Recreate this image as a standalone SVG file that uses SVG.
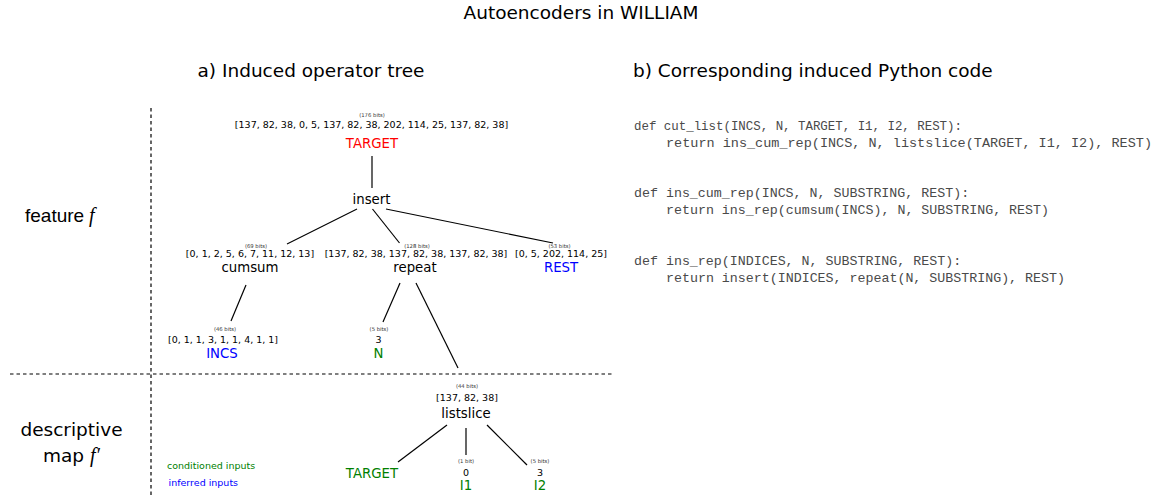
<svg xmlns="http://www.w3.org/2000/svg" width="1157" height="498" viewBox="0 0 1157 498">
<style>
text{font-family:"DejaVu Sans",sans-serif;}
.t{font-size:18.5px;fill:#000;}
.bits{font-size:5.3px;fill:#333;text-anchor:middle;}
.val{font-size:9.5px;fill:#000;text-anchor:middle;}
.lab{font-size:13.3px;text-anchor:middle;fill:#000;}
.red{fill:#ff0000;}
.blue{fill:#0000ff;}
.green{fill:#008000;}
.code{font-family:"Liberation Mono",monospace;font-size:13.3px;fill:#4a4a4a;}
.edge{stroke:#000;stroke-width:1.2;fill:none;}
.dash{stroke:#000;stroke-width:1.2;stroke-dasharray:3.5,3;fill:none;}
.math{font-family:"Liberation Serif","DejaVu Serif",serif;font-style:italic;font-size:20px;}
</style>
<rect width="1157" height="498" fill="#fff"/>
<g id="headings">
<text class="t" x="581" y="19" text-anchor="middle">Autoencoders in WILLIAM</text>
<text class="t" x="311" y="77" text-anchor="middle">a) Induced operator tree</text>
<text class="t" x="633" y="77">b) Corresponding induced Python code</text>
</g>
<g id="side-labels">
<text x="25" y="222" style="font-family:'Liberation Sans',Arial,sans-serif;font-size:19px">feature</text>
<text class="math" x="89" y="222">f</text>
<text class="t" x="71.5" y="436" text-anchor="middle">descriptive</text>
<text class="t" x="43" y="462">map</text>
<text class="math" x="90" y="462">f′</text>
</g>
<g id="dividers">
<line class="dash" x1="151" y1="108" x2="151" y2="498"/>
<line class="dash" x1="10" y1="374" x2="612" y2="374"/>
</g>
<g id="connectors">
<line class="edge" x1="372" y1="156" x2="372" y2="188"/>
<line class="edge" x1="357" y1="209" x2="287" y2="244"/>
<line class="edge" x1="372.5" y1="209" x2="399.5" y2="243"/>
<line class="edge" x1="386" y1="209" x2="553" y2="243"/>
<line class="edge" x1="246" y1="285" x2="231" y2="321"/>
<line class="edge" x1="400" y1="283" x2="383" y2="322"/>
<line class="edge" x1="416" y1="283" x2="458" y2="368"/>
<line class="edge" x1="447" y1="425" x2="398" y2="462"/>
<line class="edge" x1="466" y1="428" x2="466" y2="455"/>
<line class="edge" x1="487" y1="425" x2="527" y2="465"/>
</g>
<g id="node-target">
<text class="bits" x="372" y="117">(176 bits)</text>
<text class="val" x="371.5" y="128">[137, 82, 38, 0, 5, 137, 82, 38, 202, 114, 25, 137, 82, 38]</text>
<text class="lab red" x="372" y="148">TARGET</text>
</g>
<g id="node-insert">
<text class="lab" x="371.5" y="204">insert</text>
</g>
<g id="node-cumsum">
<text class="bits" x="256" y="248">(69 bits)</text>
<text class="val" x="250" y="257">[0, 1, 2, 5, 6, 7, 11, 12, 13]</text>
<text class="lab" x="250" y="272">cumsum</text>
</g>
<g id="node-repeat">
<text class="bits" x="417" y="248">(128 bits)</text>
<text class="val" x="416" y="257">[137, 82, 38, 137, 82, 38, 137, 82, 38]</text>
<text class="lab" x="415" y="272">repeat</text>
</g>
<g id="node-rest">
<text class="bits" x="559.5" y="248">(53 bits)</text>
<text class="val" x="561" y="257">[0, 5, 202, 114, 25]</text>
<text class="lab blue" x="561" y="272">REST</text>
</g>
<g id="node-incs">
<text class="bits" x="225" y="331">(46 bits)</text>
<text class="val" x="223" y="343">[0, 1, 1, 3, 1, 1, 4, 1, 1]</text>
<text class="lab blue" x="222" y="358">INCS</text>
</g>
<g id="node-n">
<text class="bits" x="379" y="331">(5 bits)</text>
<text class="val" x="378.5" y="343">3</text>
<text class="lab green" x="378.5" y="358">N</text>
</g>
<g id="node-listslice">
<text class="bits" x="467" y="388">(44 bits)</text>
<text class="val" x="467" y="401">[137, 82, 38]</text>
<text class="lab" x="466" y="418">listslice</text>
</g>
<g id="node-target2">
<text class="lab green" x="372" y="478">TARGET</text>
</g>
<g id="node-i1">
<text class="bits" x="466" y="463">(1 bit)</text>
<text class="val" x="466" y="476">0</text>
<text class="lab green" x="466" y="490">I1</text>
</g>
<g id="node-i2">
<text class="bits" x="540" y="463">(5 bits)</text>
<text class="val" x="540" y="476">3</text>
<text class="lab green" x="540" y="490">I2</text>
</g>
<g id="legend">
<text class="green" x="167" y="469" style="font-size:9.5px">conditioned inputs</text>
<text class="blue" x="168.5" y="486" style="font-size:9.5px">inferred inputs</text>
</g>
<g id="code">
<text class="code" x="634" y="130" textLength="328" lengthAdjust="spacingAndGlyphs">def cut_list(INCS, N, TARGET, I1, I2, REST):</text>
<text class="code" x="666" y="147" textLength="486" lengthAdjust="spacingAndGlyphs">return ins_cum_rep(INCS, N, listslice(TARGET, I1, I2), REST)</text>
<text class="code" x="634" y="197">def ins_cum_rep(INCS, N, SUBSTRING, REST):</text>
<text class="code" x="666" y="214">return ins_rep(cumsum(INCS), N, SUBSTRING, REST)</text>
<text class="code" x="634" y="265">def ins_rep(INDICES, N, SUBSTRING, REST):</text>
<text class="code" x="666" y="282">return insert(INDICES, repeat(N, SUBSTRING), REST)</text>
</g>
</svg>
